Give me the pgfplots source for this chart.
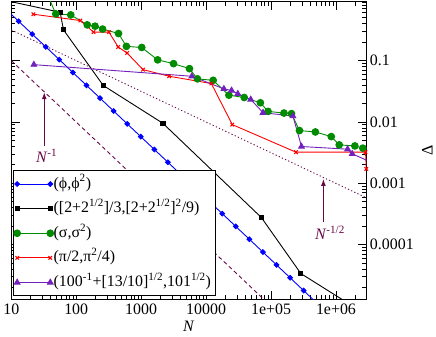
\documentclass[border=0pt]{standalone}
\usepackage{fontspec}
\setmainfont{Liberation Serif}
\usepackage{pgfplots}
\pgfplotsset{compat=1.18}
\usetikzlibrary{arrows.meta}

\definecolor{grgreen}{RGB}{0,139,0}
\definecolor{grindigo}{RGB}{114,33,188}
\definecolor{grmaroon}{RGB}{103,7,72}
\newcommand{\fs}{\fontsize{16bp}{19bp}\selectfont}

\begin{document}
\begin{tikzpicture}
\begin{axis}[
    name=ax,
    scale only axis,
    width=357.2bp, height=299.3bp,
    xmode=log, ymode=log,
    xmin=10, xmax=2.95e6,
    ymin=1.29e-5, ymax=0.914,
    axis line style={line width=0.9bp},
    tick align=inside,
    xtick pos=both, ytick pos=both,
    yticklabel pos=right,
    major tick length=8.3bp, minor tick length=4.2bp,
    every tick/.style={black, line width=0.9bp},
    xtick={10,100,1000,10000,100000,1000000},
    xticklabels={10,100,1000,10000,1e+05,1e+06},
    minor xtick={20,30,40,50,60,70,80,90,200,300,400,500,600,700,800,900,
      2e3,3e3,4e3,5e3,6e3,7e3,8e3,9e3,2e4,3e4,4e4,5e4,6e4,7e4,8e4,9e4,
      2e5,3e5,4e5,5e5,6e5,7e5,8e5,9e5,2e6},
    ytick={0.1,0.01,0.001,0.0001},
    yticklabels={0.1,0.01,0.001,0.0001},
    minor ytick={2e-5,3e-5,4e-5,5e-5,6e-5,7e-5,8e-5,9e-5,2e-4,3e-4,4e-4,5e-4,6e-4,7e-4,8e-4,9e-4,
      0.002,0.003,0.004,0.005,0.006,0.007,0.008,0.009,0.02,0.03,0.04,0.05,0.06,0.07,0.08,0.09,
      0.2,0.3,0.4,0.5,0.6,0.7,0.8,0.9},
    tick label style={font=\fs},
    xticklabel style={yshift=-1bp},
    xlabel={\textit{N}},
    xlabel style={font=\fs, at={(rel axis cs:0.5,0)}, anchor=center, yshift=-27bp},
    ylabel={Δ},
    ylabel style={font=\fs, at={(rel axis cs:1.1716,0.5)}, anchor=center},
    legend style={at={(rel axis cs:0,0)}, anchor=south west, xshift=1.5bp, yshift=3.3bp,
        draw=black, line width=0.9bp, fill=white, font=\fs,
        inner xsep=4bp, inner ysep=5.2bp, row sep=8.75bp, column sep=3.4bp,
        nodes={inner sep=0pt, text height=12bp, text depth=4bp},
        column 2/.style={nodes={text width=162bp, align=left}}},
    legend cell align=left,
    legend image code/.code={%
        \begin{pgfinterruptboundingbox}
        \draw[#1,mark repeat=1,mark phase=1] plot coordinates {(0bp,0bp) (33.3bp,0bp)};
        \end{pgfinterruptboundingbox}
        \path[draw=none,fill=none] (0bp,-3bp) rectangle (33.3bp,3bp);},
    every axis plot/.append style={line width=0.9bp},
]
% guide lines N^-1/2 and N^-1
\addplot[grmaroon, dash pattern=on 1.2bp off 2.3bp, forget plot] coordinates {(10,0.3162) (3e6,0.000577)};
\addplot[grmaroon, dash pattern=on 4bp off 3bp, forget plot] coordinates {(10,0.1) (1e5,1e-5)};

\addplot[blue, mark=diamond*, mark size=2.4bp, mark options={xscale=1.33}] coordinates {
(8,0.7125) (13,0.438) (21,0.271) (34,0.168) (55,0.104) (89,0.0640) (144,0.0396)
(233,0.0245) (377,0.0151) (610,0.00934) (987,0.00578) (1597,0.00357) (2584,0.00221)
(4181,0.00136) (6765,0.000843) (10946,0.000521) (17711,0.000322) (28657,0.000199)
(46368,0.000123) (75025,7.60e-5) (121393,4.70e-5) (196418,2.90e-5) (317811,1.79e-5)
(514229,1.11e-5)};
\addlegendentry{(ϕ,ϕ\textsuperscript{2})}

\addplot[black, mark=square*, mark size=2.1bp] coordinates {
(5,1.07) (56.6,0.615) (63.7,0.318) (261,0.0394) (2163,0.00953) (70960,0.000278)
(287600,3.40e-5) (2.4e6,8.3e-6)};
\addlegendentry{([2+2\textsuperscript{1/2}]/3,[2+2\textsuperscript{1/2}]\textsuperscript{2}/9)}

\addplot[grgreen, mark=*, mark size=3.4bp] coordinates {
(35,1.29) (48.5,0.578) (82.4,0.557) (148,0.383) (195,0.365) (255,0.327) (448,0.277)
(593,0.171) (1021,0.164) (1795,0.103) (3155,0.0894) (5546,0.0741) (7362,0.0505)
(12850,0.0478) (22440,0.0274) (38660,0.0251) (68550,0.0206) (89950,0.0149)
(158100,0.0140) (206600,0.0137) (274000,0.00726) (481800,0.00689) (847000,0.00579)
(1.122e6,0.00424) (1.954e6,0.00408) (2.588e6,0.00375) (3.4e6,0.0033)};
\addlegendentry{(σ,σ\textsuperscript{2})}

\addplot[red, mark=x, mark size=2.5bp, mark options={line width=1.1bp}] coordinates {
(21.9,0.571) (116,0.450) (185,0.292) (319,0.292) (443,0.167) (608,0.133) (1069,0.0714)
(2704,0.0557) (12050,0.0424) (25300,0.00908) (241600,0.00323) (2.85e6,0.00323)
(2.93e6,0.00172)};
\addlegendentry{(π/2,π\textsuperscript{2}/4)}

\addplot[grindigo, mark=triangle*, mark size=3.3bp] coordinates {
(22.3,0.0861) (6026,0.0557) (18790,0.0347) (24660,0.0327) (30770,0.0288) (48710,0.0233)
(75340,0.0142) (217400,0.0125) (294400,0.00399) (1.51e6,0.00361) (1.778e6,0.00303)
(3.5e6,0.00221)};
\addlegendentry{(100\textsuperscript{-1}+[13/10]\textsuperscript{1/2},101\textsuperscript{1/2})}

% annotations
\draw[grmaroon, line width=1.1bp, -{Latex[length=7bp,width=5bp]}] (axis cs:32.2,0.00408) -- (axis cs:32.2,0.0306);
\node[grmaroon, font=\fs] at (axis cs:35,0.00278) {\textit{N}\textsuperscript{-1}};
\draw[grmaroon, line width=1.1bp, -{Latex[length=7bp,width=5bp]}] (axis cs:6.4e5,2.34e-4) -- (axis cs:6.4e5,1.18e-3);
\node[grmaroon, font=\fs] at (axis cs:8.09e5,1.57e-4) {\textit{N}\textsuperscript{-1/2}};
\end{axis}
\path (ax.south west) ++(-9.5bp,-37bp);
\path (ax.north east) ++(69.3bp,1.7bp);
\end{tikzpicture}
\end{document}
